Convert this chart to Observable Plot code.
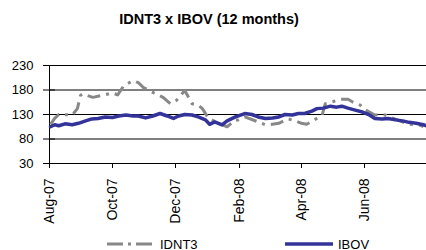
<!DOCTYPE html>
<html>
<head>
<meta charset="utf-8">
<script src="https://cdn.jsdelivr.net/npm/d3@7"></script>
<script src="https://cdn.jsdelivr.net/npm/@observablehq/plot@0.6"></script>
<style>
  html, body { margin: 0; padding: 0; background: #fff; }
  body { width: 426px; height: 250px; overflow: hidden; font-family: "Liberation Sans", Arial, sans-serif; }
  #title { height: 40px; box-sizing: border-box; padding-top: 11px; padding-right: 8px; text-align: center;
           font-weight: bold; font-size: 14.5px; line-height: 16px; color: #000; }
  #chart svg { display: block; }
  #legend { display: block; }
</style>
</head>
<body>
<div id="title">IDNT3 x IBOV (12 months)</div>
<div id="chart"></div>
<svg id="legend" width="426" height="20"></svg>
<script>
const seriesNames = ["IDNT3", "IBOV"];
const seriesColors = ["#888888", "#333399"];

const ibovDates = ["2007-08-02","2007-08-06","2007-08-10","2007-08-16","2007-08-23","2007-08-29","2007-09-05","2007-09-11","2007-09-17","2007-09-24",
  "2007-10-01","2007-10-07","2007-10-14","2007-10-21","2007-10-26","2007-11-02","2007-11-09","2007-11-16","2007-11-23","2007-11-29",
  "2007-12-04","2007-12-10","2007-12-17","2007-12-23","2007-12-30","2008-01-03","2008-01-08","2008-01-15","2008-01-20","2008-01-28",
  "2008-02-06","2008-02-13","2008-02-19","2008-02-26","2008-03-04","2008-03-10","2008-03-16","2008-03-23","2008-03-29","2008-04-04",
  "2008-04-11","2008-04-16","2008-04-22","2008-04-29","2008-05-05","2008-05-10","2008-05-16","2008-05-23","2008-05-30","2008-06-05",
  "2008-06-11","2008-06-18","2008-06-24","2008-07-01","2008-07-08","2008-07-14","2008-07-21","2008-07-28","2008-07-31"];
const ibovValues = [105,109,107,111,109,112,117,121,122,125,
  124,127,129,127,127,123,127,132,127,122,
  127,130,129,125,119,110,115,109,117,125,
  132,130,125,122,123,125,130,129,132,132,
  137,142,143,147,145,147,143,139,135,130,
  122,121,122,119,117,114,112,109,107];

const idntDates = ["2007-08-02","2007-08-06","2007-08-10","2007-08-23","2007-08-28","2007-08-31","2007-09-02","2007-09-12","2007-09-21","2007-10-01",
  "2007-10-06","2007-10-12","2007-10-21","2007-10-26","2007-10-31","2007-11-10","2007-11-19","2007-11-26","2007-12-02","2007-12-10",
  "2007-12-17","2007-12-23","2007-12-27","2008-01-02","2008-01-12","2008-01-20","2008-01-28","2008-01-31","2008-02-06","2008-02-19",
  "2008-02-26","2008-02-29","2008-03-10","2008-03-19","2008-03-26","2008-04-01","2008-04-06","2008-04-12","2008-04-21","2008-04-24",
  "2008-04-29","2008-05-09","2008-05-16","2008-05-21","2008-05-28","2008-05-31","2008-06-11","2008-06-21","2008-06-29","2008-07-14",
  "2008-07-24","2008-07-28"];
const idntValues = [110,122,130,129,142,169,172,165,169,174,
  170,189,199,195,185,174,165,152,159,179,
  152,149,142,122,112,105,119,119,125,115,
  109,109,112,121,117,112,110,117,129,152,
  155,161,161,155,149,142,129,129,122,110,
  109,105];

const yTicks = [30, 80, 130, 180, 230];
const gridValues = [80, 130, 180, 230];
const xTickDates = ["2007-08-01","2007-10-01","2007-12-01","2008-02-01","2008-04-01","2008-06-01"];
const xDomain = ["2007-08-01","2008-07-31"];

const parse = d3.utcParse("%Y-%m-%d");
const ibov = ibovDates.map((d, i) => ({date: parse(d), value: ibovValues[i]}));
const idnt = idntDates.map((d, i) => ({date: parse(d), value: idntValues[i]}));
const xStart = parse(xDomain[0]);

const chart = Plot.plot({
  width: 426,
  height: 190,
  marginLeft: 49,
  marginRight: 0,
  marginTop: 25,
  marginBottom: 67,
  style: {fontFamily: "'Liberation Sans', Arial, sans-serif", fontSize: "13px", color: "#000", background: "#fff"},
  x: {type: "utc", domain: xDomain.map(parse)},
  y: {domain: [30, 230]},
  marks: [
    Plot.ruleY(gridValues, {stroke: "#000", strokeWidth: 1}),
    Plot.ruleY([30], {stroke: "#000", strokeWidth: 1}),
    Plot.ruleX([xStart], {stroke: "#000", strokeWidth: 1}),
    Plot.axisY({ticks: yTicks, tickSize: 12, dx: 6, tickFormat: () => "", label: null, stroke: "#000"}),
    Plot.axisY({ticks: yTicks, tickSize: 0, tickPadding: 16, label: null, fill: "#000"}),
    Plot.axisX({ticks: xTickDates.map(parse), tickSize: 5, tickPadding: 10, tickRotate: -90, fontSize: 14,
      tickFormat: d3.utcFormat("%b-%y"), label: null, stroke: "#000", fill: "#000"}),
    Plot.line(idnt, {x: "date", y: "value", stroke: seriesColors[0], strokeWidth: 3,
      strokeDasharray: "13,6,3,6", strokeLinecap: "butt", strokeLinejoin: "round"}),
    Plot.line(ibov, {x: "date", y: "value", stroke: seriesColors[1], strokeWidth: 3.5,
      strokeLinejoin: "round"})
  ]
});
document.getElementById("chart").appendChild(chart);

// legend
const leg = d3.select("#legend");
const items = [
  {name: seriesNames[0], color: seriesColors[0], x1: 107, x2: 153, tx: 160, dash: "16,5,3,5", w: 3},
  {name: seriesNames[1], color: seriesColors[1], x1: 285, x2: 333, tx: 338, dash: null, w: 3.5}
];
items.forEach(it => {
  leg.append("line").attr("x1", it.x1).attr("x2", it.x2).attr("y1", 14).attr("y2", 14)
    .attr("stroke", it.color).attr("stroke-width", it.w).attr("stroke-dasharray", it.dash);
  leg.append("text").attr("x", it.tx).attr("y", 18.5).attr("font-size", 13)
    .attr("font-family", "'Liberation Sans', Arial, sans-serif").attr("fill", "#000").text(it.name);
});
</script>
</body>
</html>
